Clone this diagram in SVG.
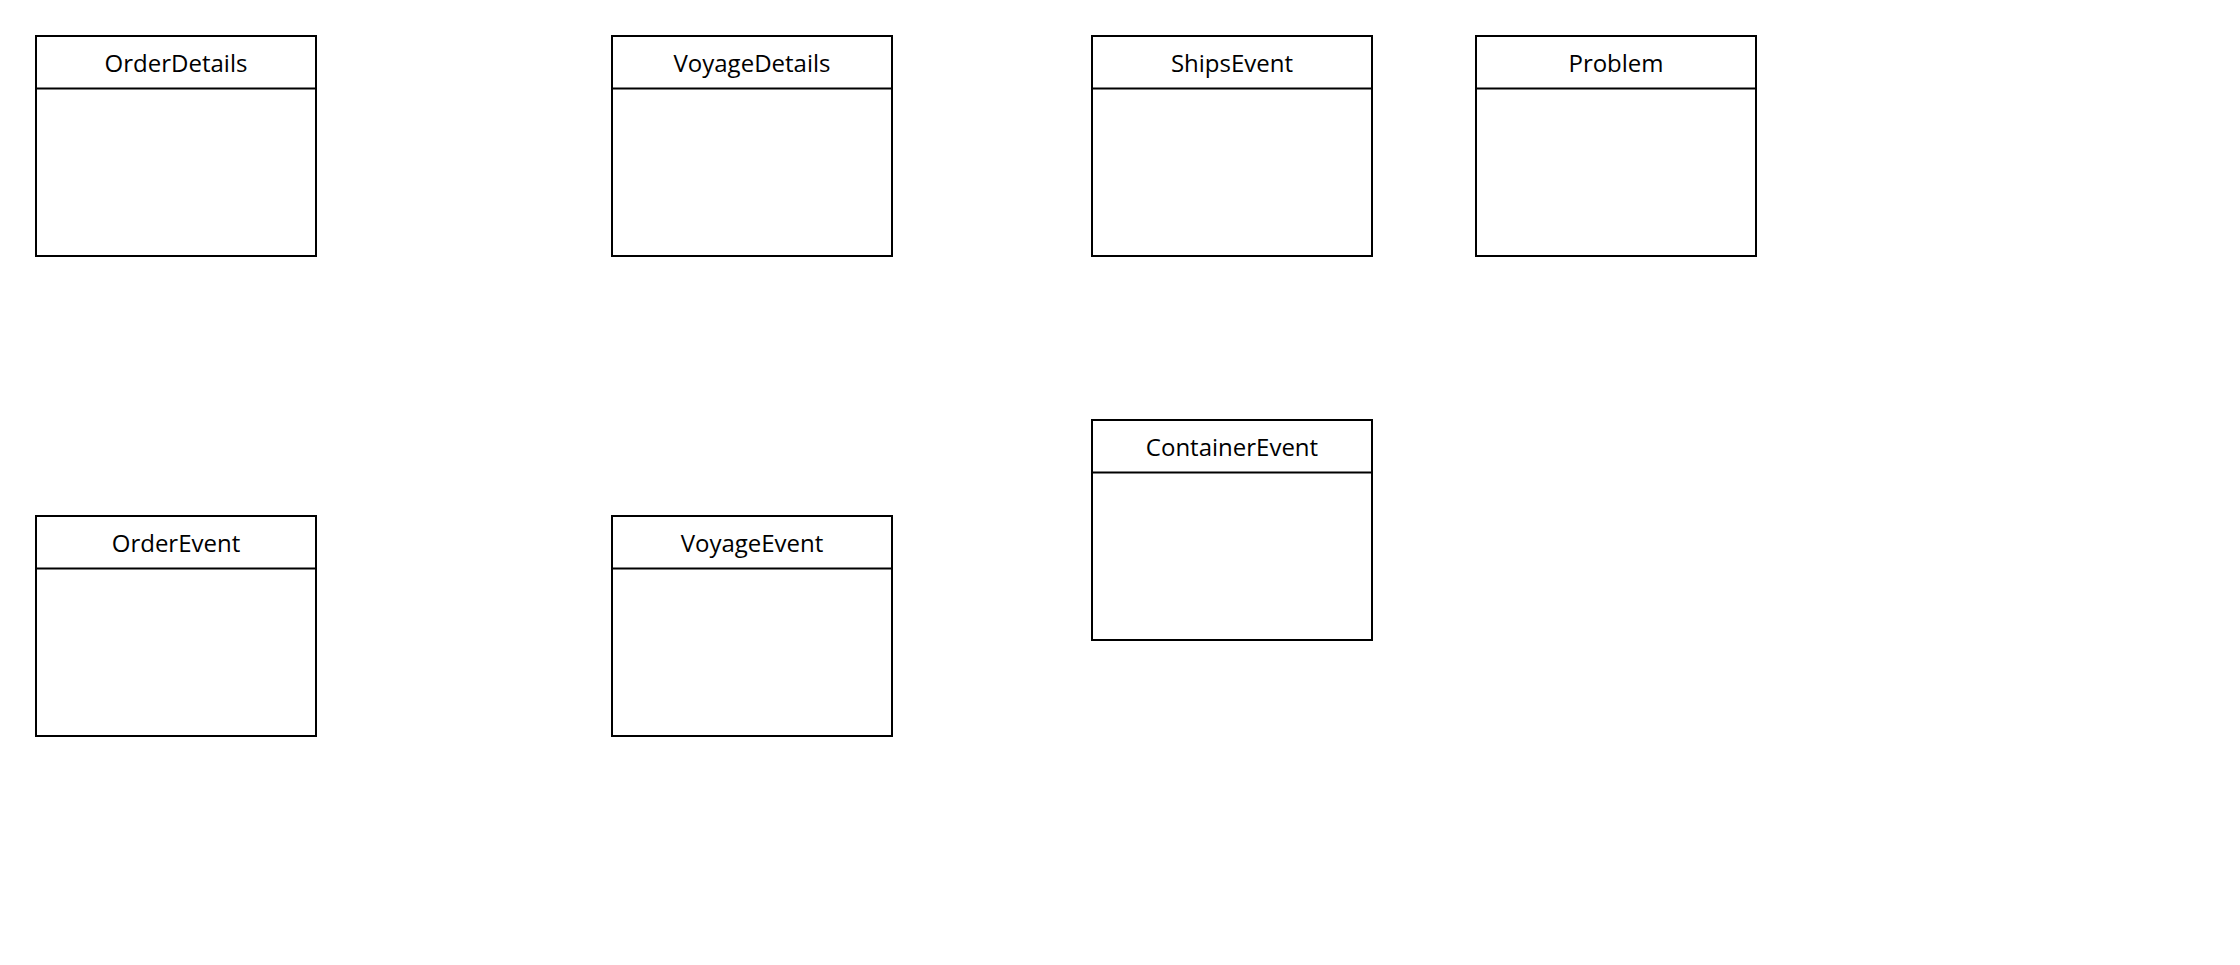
<svg xmlns="http://www.w3.org/2000/svg" width="2240" height="965" viewBox="0 0 2240 965">
<style>
.box{fill:#fff;stroke:#000;stroke-width:2}
.sep{stroke:#000;stroke-width:2}
.t{font-family:"Open Sans","DejaVu Sans",sans-serif;font-size:24px;text-anchor:middle;fill:#000}
</style>
<rect width="2240" height="965" fill="#fff"/>
<g id="OrderDetails"><rect class="box" x="36" y="36" width="280" height="220"/><line class="sep" x1="36" y1="88.5" x2="316" y2="88.5"/><text class="t" x="176" y="71.5">OrderDetails</text></g>
<g id="VoyageDetails"><rect class="box" x="612" y="36" width="280" height="220"/><line class="sep" x1="612" y1="88.5" x2="892" y2="88.5"/><text class="t" x="752" y="71.5">VoyageDetails</text></g>
<g id="ShipsEvent"><rect class="box" x="1092" y="36" width="280" height="220"/><line class="sep" x1="1092" y1="88.5" x2="1372" y2="88.5"/><text class="t" x="1232" y="71.5">ShipsEvent</text></g>
<g id="Problem"><rect class="box" x="1476" y="36" width="280" height="220"/><line class="sep" x1="1476" y1="88.5" x2="1756" y2="88.5"/><text class="t" x="1616" y="71.5">Problem</text></g>
<g id="ContainerEvent"><rect class="box" x="1092" y="420" width="280" height="220"/><line class="sep" x1="1092" y1="472.5" x2="1372" y2="472.5"/><text class="t" x="1232" y="455.5">ContainerEvent</text></g>
<g id="OrderEvent"><rect class="box" x="36" y="516" width="280" height="220"/><line class="sep" x1="36" y1="568.5" x2="316" y2="568.5"/><text class="t" x="176" y="551.5">OrderEvent</text></g>
<g id="VoyageEvent"><rect class="box" x="612" y="516" width="280" height="220"/><line class="sep" x1="612" y1="568.5" x2="892" y2="568.5"/><text class="t" x="752" y="551.5">VoyageEvent</text></g>
<g id="connectors"></g>
</svg>
